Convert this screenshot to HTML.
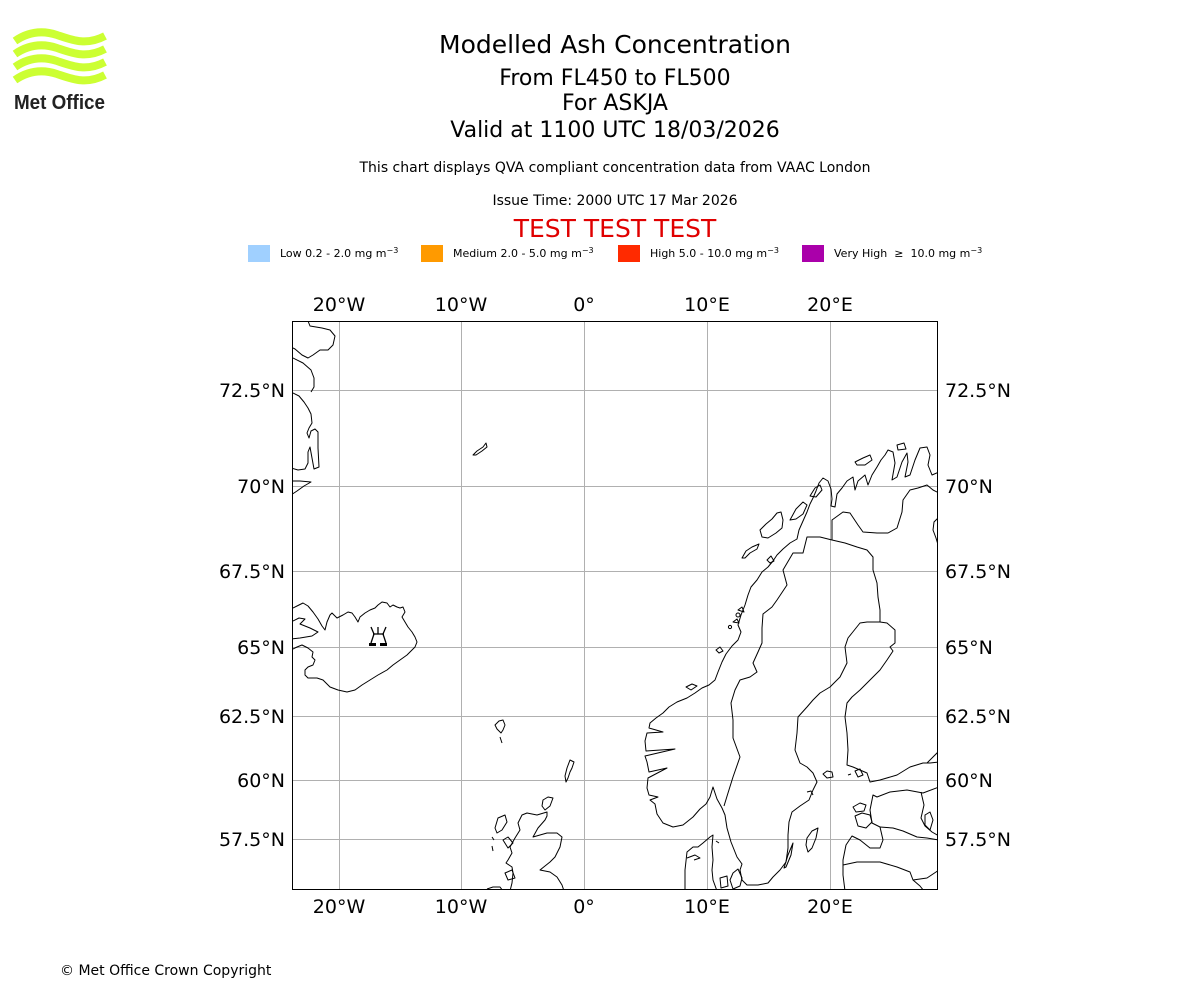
<!DOCTYPE html>
<html>
<head>
<meta charset="utf-8">
<style>
html,body{margin:0;padding:0;background:#fff;}
svg{display:block;}
text{font-family:"DejaVu Sans","Liberation Sans",sans-serif;}
</style>
</head>
<body>
<svg width="1200" height="1000" viewBox="0 0 1200 1000" xmlns="http://www.w3.org/2000/svg">
<rect x="0" y="0" width="1200" height="1000" fill="#fff"/>

<!-- Met Office logo -->
<g fill="none" stroke="#ccff33" stroke-width="8" stroke-linecap="butt">
  <path d="M15,41 C28,32 42,30 57,35 S86,46 105,36"/>
  <path d="M15,54 C28,45 42,43 57,48 S86,59 105,49"/>
  <path d="M15,67 C28,58 42,56 57,61 S86,72 105,62"/>
  <path d="M15,80 C28,71 42,69 57,74 S86,85 105,75"/>
</g>
<text x="14" y="109" font-weight="bold" font-size="20" fill="#222" textLength="91" lengthAdjust="spacingAndGlyphs" style="font-family:'Liberation Sans',sans-serif">Met Office</text>

<!-- Titles -->
<g text-anchor="middle" fill="#000">
  <text x="615" y="53" font-size="25">Modelled Ash Concentration</text>
  <text x="615" y="85" font-size="22">From FL450 to FL500</text>
  <text x="615" y="110" font-size="22">For ASKJA</text>
  <text x="615" y="137" font-size="22">Valid at 1100 UTC 18/03/2026</text>
  <text x="615" y="172" font-size="14">This chart displays QVA compliant concentration data from VAAC London</text>
  <text x="615" y="205" font-size="14">Issue Time: 2000 UTC 17 Mar 2026</text>
  <text x="615" y="237" font-size="25" fill="#e00000">TEST TEST TEST</text>
</g>

<!-- Legend -->
<rect x="248" y="245" width="22" height="17" fill="#a0d0ff"/>
<text x="280" y="257" font-size="11">Low 0.2 - 2.0 mg m<tspan font-size="8" dy="-4">−3</tspan></text>
<rect x="421" y="245" width="22" height="17" fill="#ff9a00"/>
<text x="453" y="257" font-size="11">Medium 2.0 - 5.0 mg m<tspan font-size="8" dy="-4">−3</tspan></text>
<rect x="618" y="245" width="22" height="17" fill="#ff2a00"/>
<text x="650" y="257" font-size="11">High 5.0 - 10.0 mg m<tspan font-size="8" dy="-4">−3</tspan></text>
<rect x="802" y="245" width="22" height="17" fill="#aa00aa"/>
<text x="834" y="257" font-size="11">Very High&#160;&#160;≥&#160;&#160;10.0 mg m<tspan font-size="8" dy="-4">−3</tspan></text>

<defs>
  <clipPath id="mapclip"><rect x="292" y="321" width="646" height="569"/></clipPath>
</defs>

<!-- Gridlines -->
<g stroke="#b0b0b0" stroke-width="1" clip-path="url(#mapclip)">
  <line x1="339.5" y1="321" x2="339.5" y2="890"/>
  <line x1="461.5" y1="321" x2="461.5" y2="890"/>
  <line x1="584.5" y1="321" x2="584.5" y2="890"/>
  <line x1="707.5" y1="321" x2="707.5" y2="890"/>
  <line x1="830.5" y1="321" x2="830.5" y2="890"/>
  <line x1="292" y1="390.5" x2="938" y2="390.5"/>
  <line x1="292" y1="486.5" x2="938" y2="486.5"/>
  <line x1="292" y1="571.5" x2="938" y2="571.5"/>
  <line x1="292" y1="647.5" x2="938" y2="647.5"/>
  <line x1="292" y1="716.5" x2="938" y2="716.5"/>
  <line x1="292" y1="780.5" x2="938" y2="780.5"/>
  <line x1="292" y1="839.5" x2="938" y2="839.5"/>
</g>

<!-- Coastlines & borders -->
<g fill="none" stroke="#000" stroke-width="1" stroke-linejoin="round" clip-path="url(#mapclip)">
  <!-- Greenland -->
  <path d="M308,321 L310,326 322,328 330,330 335,336 333,345 328,350 320,350 313,355 308,358 302,355 295,349 291,347"/>
  <path d="M291,357 L303,363 311,370 314,378 314,387 311,392"/>
  <path d="M291,392 L299,396 304,402 308,408 311,414 312,423 309,428 307,433 309,438 311,431 315,429 318,432 318,448 319,467 314,469 312,458 310,447 308,452 308,463 305,469 298,470 291,468"/>
  <path d="M291,481 L300,481 311,482 304,486 297,491 291,495"/>
  <!-- Jan Mayen -->
  <path d="M473,455 L477,451 483,447 486,443 487,447 482,451 476,455 Z"/>
  <!-- Iceland -->
  <path d="M291,609 L297,606 303,603 308,606 313,612 318,619 322,626 325,630 327,622 330,615 332,613 337,618 343,615 348,612 352,613 355,617 358,622 360,617 365,613 370,610 375,608 378,605 382,602 387,603 390,607 393,605 397,607 400,608 403,607 405,612 402,617 405,622 408,627 412,632 415,637 417,642 415,647 412,650 407,655 400,660 393,665 387,670 378,675 370,680 362,685 355,690 347,692 338,690 330,687 323,680 317,678 308,678 305,675 305,670 308,667 313,665 315,660 312,657 313,652 308,648 302,645 297,647 291,650"/>
  <path d="M291,622 L299,618 305,619 300,624 310,628 318,632 312,636 300,638 291,639"/>
  <!-- Faroe -->
  <path d="M495,725 L499,721 503,720 505,725 503,730 501,733 497,729 Z"/>
  <path d="M500,737 L502,743"/>
  <!-- Shetland -->
  <path d="M570,760 L574,762 572,768 570,772 568,778 566,782 565,776 567,768 Z"/>
  <!-- Orkney -->
  <path d="M543,800 L548,797 553,798 550,806 545,810 542,806 Z"/>
  <!-- Scotland -->
  <path d="M510,891 L512,883 513,873 512,867 506,863 508,860 512,853 510,847 515,838 520,830 518,823 522,815 527,813 537,815 547,812 547,816 545,820 538,828 533,837 547,833 557,833 562,837 560,847 555,857 550,862 540,870 550,872 557,877 562,885 564,891"/>
  <path d="M498,818 L505,815 507,822 502,830 497,833 495,828 Z"/>
  <path d="M492,837 L494,840"/>
  <path d="M492,846 L493,851"/>
  <path d="M503,840 L508,837 513,843 508,848 Z"/>
  <path d="M505,873 L512,870 515,878 508,880 Z"/>
  <path d="M487,889 L493,887 500,887 503,891"/>
  <!-- Scandinavia main coast -->
  <path d="M880,622 L867,622 860,623 852,633 848,638 845,647 847,663 840,677 830,687 820,693 813,700 807,707 798,717 797,733 795,750 800,763 807,767 813,773 817,782 813,790 809,800 800,806 792,812 789,822 788,835 788,848 786,862 780,870 773,877 768,883 758,885 747,885 742,880 740,870 742,864 737,857 731,842 727,828 725,815 722,808 717,799 713,787 710,797 706,804 700,809 693,817 683,825 673,827 663,823 657,814 655,804 650,800 658,797 649,795 647,788 648,778 667,768 649,772 647,762 645,756 675,749 646,751 645,741 647,733 663,732 649,728 650,723 656,718 663,713 669,707 677,702 687,698 695,693 702,688 709,685 715,680 718,672 722,662 726,654 732,646 738,640 741,632 738,625 741,615 745,605 748,595 751,587 757,580 762,572 768,567 773,561 777,555 783,549 790,543 797,539 799,530 803,521 807,512 810,504 813,498 816,491 819,483 823,478 828,481 831,489 832,499 831,506 835,507 837,494 842,488 847,481 853,477 855,490 858,481 865,475 868,485 872,475 877,467 881,460 885,455 888,450 893,452 895,463 892,480 897,477 902,462 907,453 908,462 905,477 910,475 915,460 920,448 927,447 930,455 928,465 932,475 939,472"/>
  <!-- Norwegian islands -->
  <path d="M742,558 L746,551 752,547 759,544 757,549 750,553 745,558 Z"/>
  <path d="M760,530 L766,524 772,519 777,513 781,512 783,520 782,528 776,533 768,538 762,537 Z"/>
  <path d="M790,520 L796,509 803,502 807,505 803,514 796,519 Z"/>
  <path d="M810,496 L815,488 820,485 822,490 816,497 Z"/>
  <path d="M855,462 L863,458 870,455 872,460 865,465 857,465 Z"/>
  <path d="M897,445 L904,443 906,449 898,450 Z"/>
  <path d="M767,560 L771,556 774,561 770,563 Z"/>
  <path d="M686,687 L692,684 697,686 691,690 Z"/>
  <path d="M716,650 L720,647 723,651 719,653 Z"/>
  <path d="M733,622 L737,619 739,623 Z"/>
  <path d="M738,610 L742,607 744,612 Z"/>
  <circle cx="730" cy="627" r="1.6"/>
  <circle cx="738" cy="615" r="2"/>
  <!-- Norway-Sweden border + Sweden-Finland -->
  <path d="M724,806 L728,793 733,777 740,757 733,738 733,720 731,703 735,690 740,680 750,677 757,672 753,663 758,652 762,643 762,628 763,614 772,607 777,600 787,585 783,570 793,553 803,553 807,537 820,537 832,540 845,543 857,547 867,550 873,557 873,570 877,583 878,597 880,610 880,622"/>
  <!-- Norway-Finland/Russia -->
  <path d="M832,540 L832,520 843,512 850,513 858,525 863,532 877,533 888,533 897,528 902,512 903,500 910,490 918,488 927,485 933,490 939,493"/>
  <path d="M939,517 L934,522 933,530 936,538 939,548"/>
  <!-- Finland coast -->
  <path d="M880,622 L887,623 895,630 895,643 890,647 893,651 887,660 880,670 870,680 860,690 852,697 847,703 845,717 847,733 848,750 847,765 853,767 867,773 870,782 880,780 897,775 910,767 923,763 930,763 939,762"/>
  <path d="M927,763 L933,757 939,751"/>
  <!-- Aland -->
  <path d="M823,774 L827,771 832,772 833,777 827,778 Z"/>
  <path d="M848,775 L851,774"/>
  <path d="M855,771 L860,769 863,775 858,777 Z"/>
  <!-- Estonia / Latvia -->
  <path d="M939,787 L923,793 907,790 890,792 877,797 873,795 870,810 872,823 880,827 883,840 880,848 870,848 860,840 852,836 846,845 843,860 843,875 845,891"/>
  <path d="M880,827 L893,828 903,831 917,837 927,838 939,840"/>
  <path d="M843,865 L857,862 880,862 897,867 910,872 913,880 927,878 939,870"/>
  <path d="M921,792 L924,805 921,818 925,826 932,832 939,836"/>
  <path d="M925,815 L930,812 933,820 930,830 925,825 Z"/>
  <path d="M853,807 L860,803 866,805 864,811 856,812 Z"/>
  <path d="M855,816 L862,813 870,815 872,822 866,828 858,826 Z"/>
  <path d="M913,880 L920,886 924,891"/>
  <!-- Gotland, Oland -->
  <path d="M807,838 L812,831 818,828 816,838 812,848 808,852 806,845 Z"/>
  <path d="M784,868 L788,855 793,843 791,855 786,867 Z"/>
  <path d="M807,792 L811,791 813,795"/>
  <!-- Denmark -->
  <path d="M685,891 L685,870 687,852 693,847 698,847 703,843 710,837 713,835 712,847 713,860 712,870 713,880 717,891"/>
  <path d="M687,858 L695,855 700,858 694,860"/>
  <path d="M733,873 L738,869 742,878 740,886 733,889 730,880 Z"/>
  <path d="M720,878 L727,876 728,886 721,888 Z"/>
  <path d="M716,841 L719,843"/>
</g>

<!-- Askja volcano symbol -->
<g stroke="#000" fill="none" stroke-width="1.3">
  <path d="M371,627 L374,634 M378,627 L378,634 M386,627 L383,634"/>
  <path d="M373,634 L384,634"/>
  <path d="M374,634 L371,643 M383,634 L386,643"/>
</g>
<g stroke="#000" stroke-width="3">
  <line x1="369" y1="644.5" x2="376" y2="644.5"/>
  <line x1="380" y1="644.5" x2="387" y2="644.5"/>
</g>

<!-- Frame -->
<rect x="292.5" y="321.5" width="645" height="568" fill="none" stroke="#000" stroke-width="1"/>

<!-- Tick labels -->
<g font-size="19" fill="#000">
  <g text-anchor="middle">
    <text x="339" y="311">20°W</text>
    <text x="461" y="311">10°W</text>
    <text x="584" y="311">0°</text>
    <text x="707" y="311">10°E</text>
    <text x="830" y="311">20°E</text>
    <text x="339" y="913">20°W</text>
    <text x="461" y="913">10°W</text>
    <text x="584" y="913">0°</text>
    <text x="707" y="913">10°E</text>
    <text x="830" y="913">20°E</text>
  </g>
  <g text-anchor="end">
    <text x="285" y="397">72.5°N</text>
    <text x="285" y="493">70°N</text>
    <text x="285" y="578">67.5°N</text>
    <text x="285" y="654">65°N</text>
    <text x="285" y="723">62.5°N</text>
    <text x="285" y="787">60°N</text>
    <text x="285" y="846">57.5°N</text>
  </g>
  <g text-anchor="start">
    <text x="945" y="397">72.5°N</text>
    <text x="945" y="493">70°N</text>
    <text x="945" y="578">67.5°N</text>
    <text x="945" y="654">65°N</text>
    <text x="945" y="723">62.5°N</text>
    <text x="945" y="787">60°N</text>
    <text x="945" y="846">57.5°N</text>
  </g>
</g>

<!-- Copyright -->
<text x="60" y="975" font-size="14" fill="#000">© Met Office Crown Copyright</text>
</svg>
</body>
</html>
